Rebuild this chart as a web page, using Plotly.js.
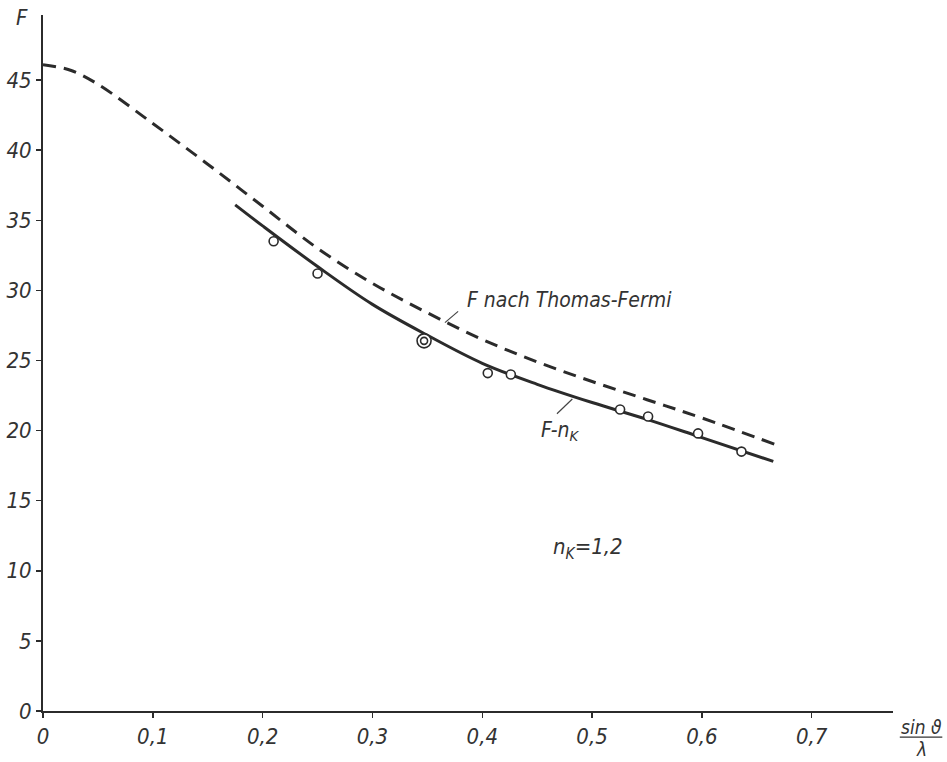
<!DOCTYPE html>
<html>
<head>
<meta charset="utf-8">
<script src="https://cdn.plot.ly/plotly-3.0.1.min.js"></script>
<style>html,body{margin:0;padding:0;background:#fff;}#chart{width:947px;height:762px;}</style>
</head>
<body>
<div id="chart"></div>
<script>
// Thomas-Fermi curve (dashed)
var tfX = [0, 0.025, 0.05, 0.1, 0.15, 0.2, 0.25, 0.3, 0.35, 0.4, 0.45, 0.5, 0.55, 0.6, 0.667];
var tfF = [46.1, 45.7, 44.7, 41.9, 39.0, 36.0, 33.0, 30.5, 28.4, 26.5, 24.9, 23.5, 22.2, 20.9, 19.0];
// F - n_K curve (solid)
var fnX = [0.175, 0.2, 0.25, 0.3, 0.35, 0.4, 0.45, 0.5, 0.55, 0.6, 0.665];
var fnF = [36.1, 34.6, 31.7, 29.0, 26.8, 24.8, 23.3, 22.0, 20.8, 19.5, 17.8];
// measured points (open circles)
var ptX = [0.21, 0.25, 0.405, 0.426, 0.5255, 0.551, 0.5965, 0.636];
var ptF = [33.5, 31.2, 24.1, 24.0, 21.5, 21.0, 19.8, 18.5];
// double-circle point
var dblX = [0.347];
var dblF = [26.4];
var xTicks = [0, 0.1, 0.2, 0.3, 0.4, 0.5, 0.6, 0.7];
var yTicks = [0, 5, 10, 15, 20, 25, 30, 35, 40, 45];

var fontFam = "'Liberation Sans Narrow', 'DejaVu Sans Condensed', 'Liberation Sans', sans-serif";
var ink = '#2b2b2b';

var traces = [
  {x: tfX, y: tfF, mode: 'lines', line: {color: ink, width: 3, dash: '13px,8px', shape: 'spline', smoothing: 1}, hoverinfo: 'skip'},
  {x: fnX, y: fnF, mode: 'lines', line: {color: ink, width: 3, shape: 'spline', smoothing: 1}, hoverinfo: 'skip'},
  {x: ptX, y: ptF, mode: 'markers', marker: {symbol: 'circle', size: 9, color: '#fff', line: {color: ink, width: 1.6}}},
  {x: dblX, y: dblF, mode: 'markers', marker: {symbol: 'circle', size: 14, color: '#fff', line: {color: ink, width: 1.6}}},
  {x: dblX, y: dblF, mode: 'markers', marker: {symbol: 'circle', size: 7, color: '#fff', line: {color: ink, width: 1.6}}}
];

var tickFont = {family: fontFam, size: 22, color: '#333', style: 'italic'};

function ann(xref, yref, x, y, text, size) {
  return {xref: xref, yref: yref, x: x, y: y, text: text, showarrow: false,
          xanchor: 'center', yanchor: 'middle',
          font: {family: fontFam, size: size, color: '#333', style: 'italic'}};
}

var layout = {
  width: 947, height: 762,
  margin: {l: 43, r: 54, t: 15, b: 51},
  paper_bgcolor: '#fff', plot_bgcolor: '#fff',
  showlegend: false,
  xaxis: {
    range: [0, 0.774], tickvals: xTicks, ticktext: xTicks.map(function(v){return v===0?'0':String(v).replace('.', ',');}),
    showgrid: false, zeroline: false, showline: true, linecolor: ink, linewidth: 2,
    ticks: 'outside', ticklen: 5, tickwidth: 1.5, tickcolor: ink, tickfont: tickFont, fixedrange: true
  },
  yaxis: {
    range: [0, 49.64], tickvals: yTicks, ticktext: yTicks.map(String),
    showgrid: false, zeroline: false, showline: true, linecolor: ink, linewidth: 2,
    ticks: 'outside', ticklen: 5, tickwidth: 1.5, tickcolor: ink, tickfont: tickFont, fixedrange: true
  },
  annotations: [
    ann('paper', 'paper', -0.0247, 0.9957, 'F', 22),
    ann('paper', 'paper', 1.033, -0.023, 'sin ϑ', 19),
    ann('paper', 'paper', 1.033, -0.055, 'λ', 19),
    ann('x', 'y', 0.479, 29.3, 'F nach Thomas-Fermi', 21),
    ann('x', 'y', 0.471, 20.0, 'F-n<sub>K</sub>', 21),
    ann('x', 'y', 0.496, 11.6, 'n<sub>K</sub>=1,2', 22)
  ],
  shapes: [
    {type: 'line', xref: 'paper', yref: 'paper', x0: 1.008, x1: 1.058, y0: -0.0375, y1: -0.0375, line: {color: '#333', width: 1.3}},
    {type: 'line', xref: 'x', yref: 'y', x0: 0.366, y0: 27.7, x1: 0.378, y1: 28.5, line: {color: '#444', width: 1.2}},
    {type: 'line', xref: 'x', yref: 'y', x0: 0.468, y0: 21.2, x1: 0.482, y1: 22.25, line: {color: '#444', width: 1.2}}
  ]
};

Plotly.newPlot('chart', traces, layout, {staticPlot: true, displayModeBar: false});
</script>
</body>
</html>
